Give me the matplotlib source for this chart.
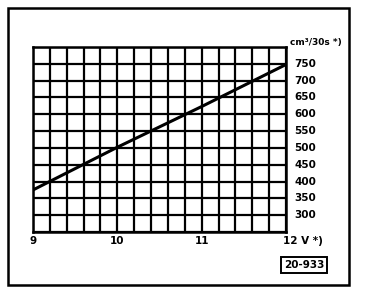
import numpy as np
import matplotlib
matplotlib.use("Agg")
import matplotlib.pyplot as plt
from matplotlib.patches import Rectangle

# Flow rate vs supply voltage
voltage = [9, 10, 11, 12]
flow = [375, 502, 623, 748]

y_labels = [300, 350, 400, 450, 500, 550, 600, 650, 700, 750]
x_labels = {9: "9", 10: "10", 11: "11", 12: "12 V *)"}
unit_label = "cm³/30s *)"
ref_code = "20-933"

plt.rcParams['font.family'] = ['Liberation Sans Narrow', 'DejaVu Sans']

fig = plt.figure(figsize=(3.68, 2.94), dpi=100)
W, H = 368, 294

# outer frame of the scanned figure
fig.patches.append(Rectangle((8 / W, 1 - 285 / H), (349 - 8) / W, (285 - 8) / H,
                             transform=fig.transFigure, fill=False,
                             edgecolor="black", linewidth=1.8))

ax = fig.add_axes([33 / W, 1 - 232 / H, (286 - 33) / W, (232 - 47) / H])
ax.set_xlim(9, 12)
ax.set_ylim(250, 800)

ax.set_xticks(np.arange(9, 12.01, 0.2))
ax.set_yticks(np.arange(250, 800.1, 50))
ax.grid(True, color="black", linewidth=1.6)
ax.tick_params(length=0, labelbottom=False, labelleft=False)
for s in ax.spines.values():
    s.set_linewidth(1.8)

ax.plot(voltage, flow, color="black", linewidth=2.2, zorder=3)

for v in y_labels:
    ax.text(12.1, v, str(v), ha="left", va="center", fontsize=7.5,
            fontweight="bold", clip_on=False)
ax.text(12.05, 800, unit_label, ha="left", va="bottom", fontsize=6.5,
        fontweight="bold", clip_on=False)
for v, lab in x_labels.items():
    ax.text(v - (0.03 if v == 12 else 0), 238, lab,
            ha="center" if v < 12 else "left", va="top",
            fontsize=7.5, fontweight="bold", clip_on=False)

fig.text(304 / W, 1 - 265 / H, ref_code, ha="center", va="center",
         fontsize=7.5, fontweight="bold",
         bbox=dict(boxstyle="square,pad=0.25", facecolor="white",
                   edgecolor="black", linewidth=1.4))

fig.savefig("out.png", dpi=100)
